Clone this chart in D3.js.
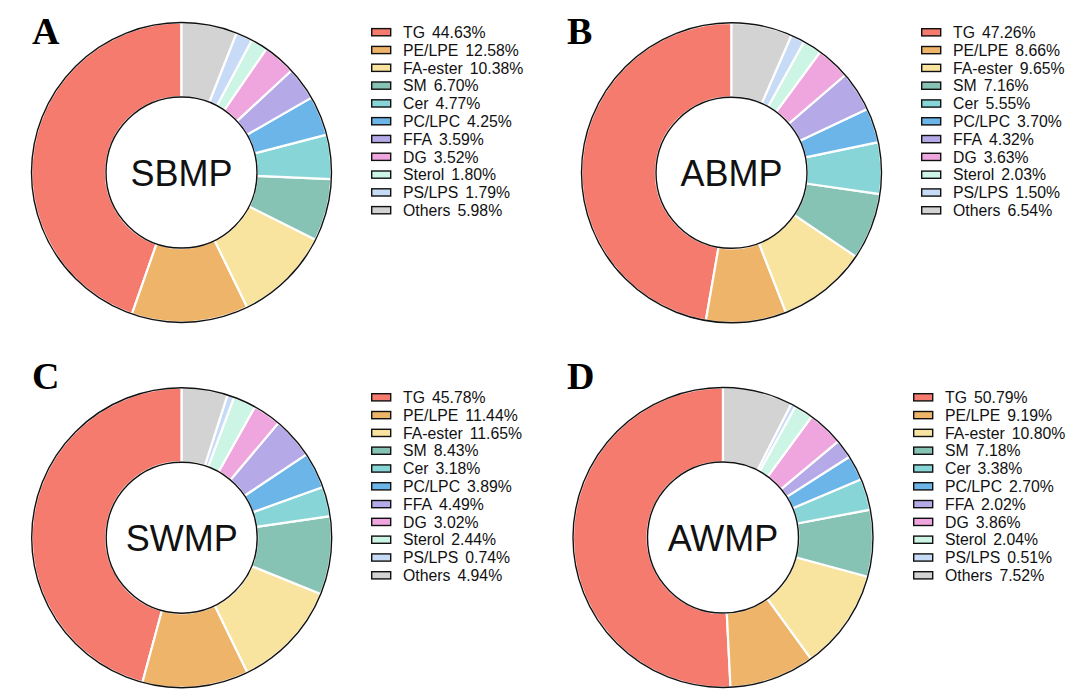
<meta charset="utf-8">
<style>
    body { margin: 0; background: #ffffff; }
    text { font-family: "Liberation Sans", Arial, sans-serif; }
</style>
<body>
<script src="https://d3js.org/d3.v7.min.js"></script>
<script>

    const categories = ["TG", "PE/LPE", "FA-ester", "SM", "Cer", "PC/LPC", "FFA", "DG", "Sterol", "PS/LPS", "Others"];
    const colors = ["#f47b6e", "#eeb56a", "#f8e39f", "#87c3b5", "#88d5d8", "#6bb5e9",
                    "#b6a9e7", "#efa6de", "#ccf5e5", "#c7dbf6", "#d3d3d3"];

    const sbmp = [44.63, 12.58, 10.38, 6.70, 4.77, 4.25, 3.59, 3.52, 1.80, 1.79, 5.98];
    const abmp = [47.26, 8.66, 9.65, 7.16, 5.55, 3.70, 4.32, 3.63, 2.03, 1.50, 6.54];
    const swmp = [45.78, 11.44, 11.65, 8.43, 3.18, 3.89, 4.49, 3.02, 2.44, 0.74, 4.94];
    const awmp = [50.79, 9.19, 10.80, 7.18, 3.38, 2.70, 2.02, 3.86, 2.04, 0.51, 7.52];

    const panelNames = ["SBMP", "ABMP", "SWMP", "AWMP"];
    const panelLetters = ["A", "B", "C", "D"];

    // layout of each panel: pie centre, letter, legend
    const panels = [
        {values: sbmp, cx: 181.5, cy: 172.5, lx: 32,  ly: 44,  legX: 371, legY: 32.2},
        {values: abmp, cx: 731.5, cy: 172.8, lx: 567, ly: 44,  legX: 921, legY: 32.3},
        {values: swmp, cx: 181.7, cy: 537.7, lx: 32,  ly: 389, legX: 371, legY: 397.3},
        {values: awmp, cx: 723,   cy: 537.5, lx: 567, ly: 389, legX: 913, legY: 397.3}
    ];

    const width = 1080, height = 699;
    const outerR = 150, innerR = 75.5;
    const rowStep = 17.8;

    let svg = d3.select("body").append("svg")
        .attr("width", width)
        .attr("height", height);

    let pie = d3.pie()
        .sort(null)
        .startAngle(0)
        .endAngle(-2 * Math.PI)
        .value(function (d) { return d; });

    let arc = d3.arc()
        .innerRadius(innerR)
        .outerRadius(outerR);

    let color = d3.scaleOrdinal().domain(categories).range(colors);

    panels.forEach(function (p, k) {
        let g = svg.append("g")
            .attr("transform", "translate(" + p.cx + "," + p.cy + ")");

        g.selectAll("path")
            .data(pie(p.values))
            .enter().append("path")
            .attr("d", arc)
            .style("fill", function (d, i) { return color(categories[i]); })
            .style("stroke", "#ffffff")
            .style("stroke-width", 2.2)
            .style("stroke-linejoin", "round");

        // black rims
        [outerR, innerR].forEach(function (r) {
            g.append("circle")
                .attr("r", r)
                .style("fill", "none")
                .style("stroke", "#111111")
                .style("stroke-width", 1.4);
        });

        g.append("text")
            .attr("y", 13)
            .attr("text-anchor", "middle")
            .style("font-size", "36px")
            .style("fill", "#111111")
            .text(panelNames[k]);

        svg.append("text")
            .attr("x", p.lx)
            .attr("y", p.ly)
            .style("font-family", "'Liberation Serif', 'Times New Roman', serif")
            .style("font-weight", "bold")
            .style("font-size", "38px")
            .style("fill", "#000000")
            .text(panelLetters[k]);

        let leg = svg.append("g")
            .attr("transform", "translate(" + p.legX + "," + p.legY + ")");

        let rows = leg.selectAll("g")
            .data(categories)
            .enter().append("g")
            .attr("transform", function (d, i) { return "translate(0," + (i * rowStep) + ")"; });

        rows.append("rect")
            .attr("x", 0.7)
            .attr("y", -3.6)
            .attr("width", 19)
            .attr("height", 7.2)
            .style("fill", function (d) { return color(d); })
            .style("stroke", "#111111")
            .style("stroke-width", 1.4);

        let t = rows.append("text")
            .attr("x", 32)
            .attr("y", 5.7)
            .style("font-size", "15.8px")
            .style("fill", "#111111");

        t.append("tspan").text(function (d) { return d; });
        t.append("tspan")
            .attr("dx", 7)
            .text(function (d, i) { return p.values[i].toFixed(2) + "%"; });
    });

</script>
